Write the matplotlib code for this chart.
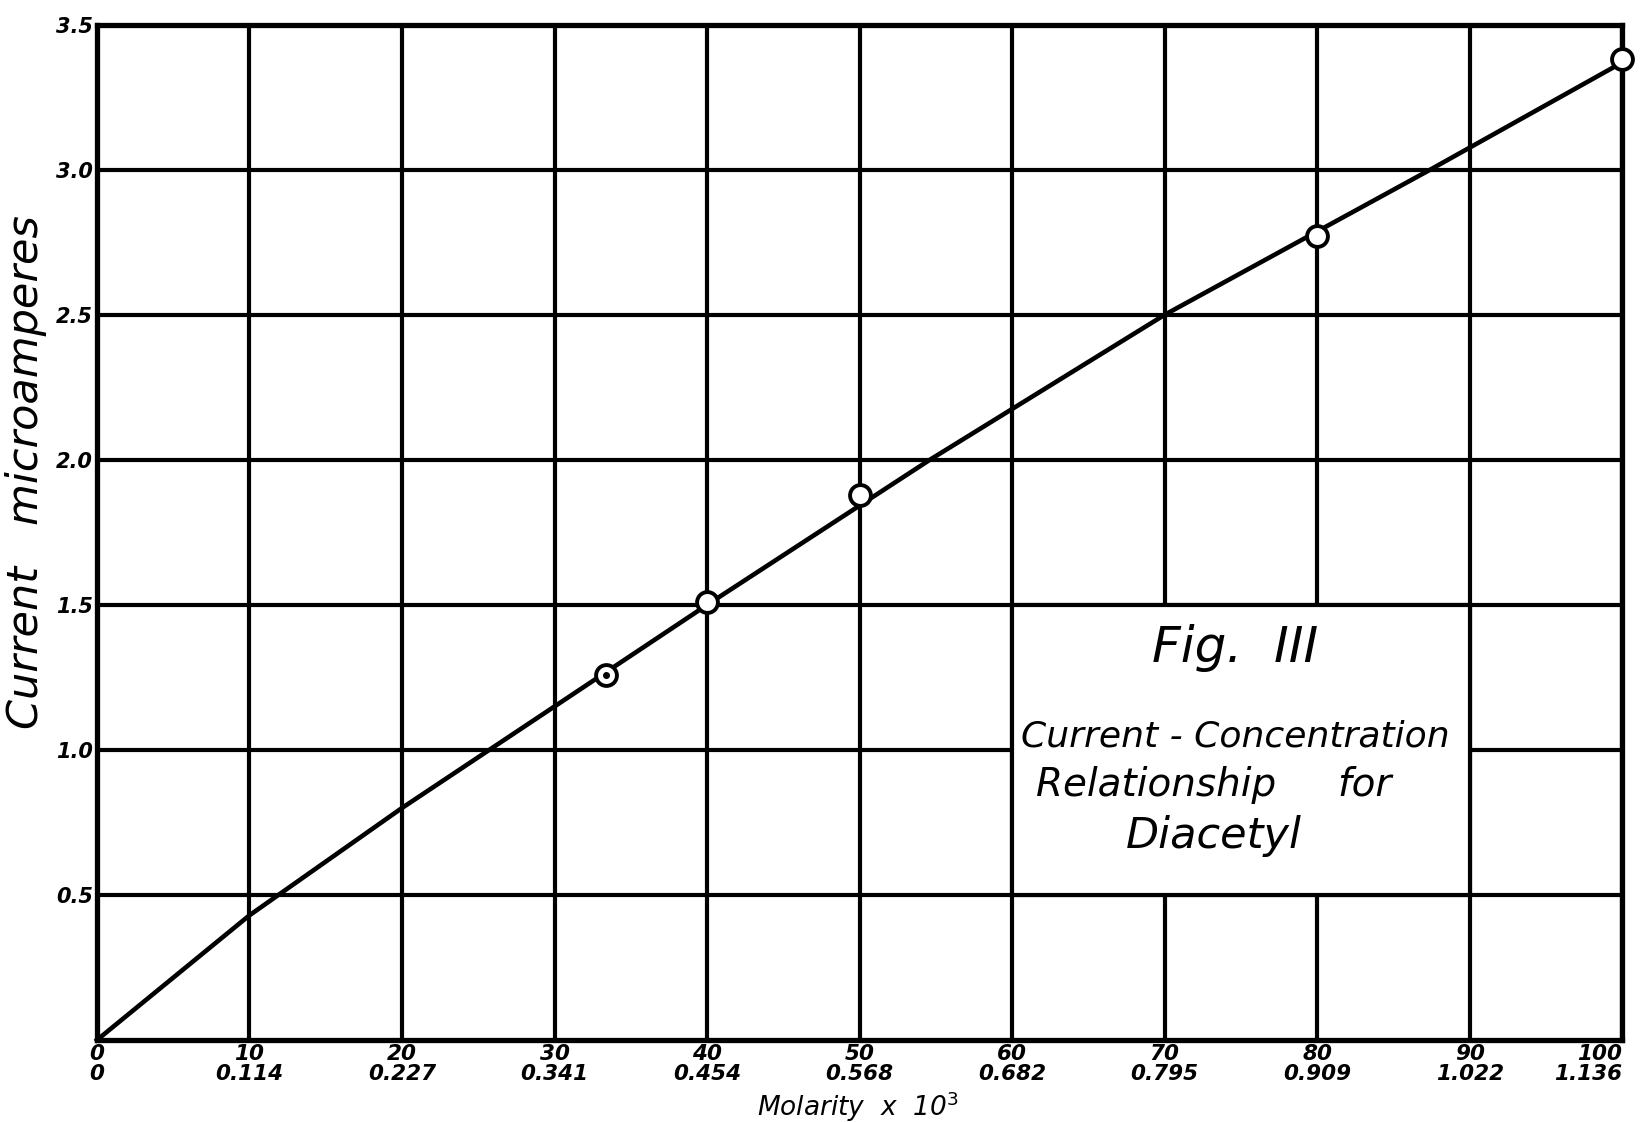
import matplotlib.pyplot as plt
import matplotlib.patches as patches

# readings
molarity_x1e3 = [0, 10, 20, 30, 40, 50, 60, 70, 80, 90, 100]
molarity_mm = ["0", "0.114", "0.227", "0.341", "0.454", "0.568", "0.682", "0.795", "0.909", "1.022", "1.136"]
y_ticks = [0.5, 1.0, 1.5, 2.0, 2.5, 3.0, 3.5]

# measured points (open circles)
pt_x = [33.4, 40, 50, 80, 100]
pt_y = [1.26, 1.51, 1.88, 2.77, 3.38]

# the drawn curve, read where it crosses the grid
curve_x = [0, 10, 20, 40, 54.6, 70, 87.4, 100]
curve_y = [0, 0.43, 0.80, 1.5, 2.0, 2.5, 3.0, 3.37]

fnt = "DejaVu Sans"

fig = plt.figure(figsize=(16.42, 11.22), dpi=100)
ax = fig.add_axes([0.059, 0.073, 0.929, 0.905])

ax.set_xlim(0, 100)
ax.set_ylim(0, 3.5)
ax.set_xticks(molarity_x1e3)
ax.set_xticklabels([f"{a}\n{b}" for a, b in zip(molarity_x1e3, molarity_mm)],
                   fontsize=15.5, fontstyle="italic", fontweight="bold", family=fnt,
                   linespacing=1.0)
last = ax.get_xticklabels()[-1]
last.set_ha("right")
last.set_multialignment("right")
ax.set_yticks(y_ticks)
ax.set_yticklabels([f"{v:.1f}" for v in y_ticks], fontsize=15, fontstyle="italic",
                   fontweight="bold", family=fnt)
ax.tick_params(length=0, pad=3)
ax.grid(True, color="black", linewidth=3)
for s in ax.spines.values():
    s.set_linewidth(3.8)

# white label box covering the grid
box = patches.Rectangle((60, 0.5), 30, 1.0, facecolor="white", edgecolor="black",
                        linewidth=3, zorder=2)
ax.add_patch(box)

ax.plot(curve_x, curve_y, color="black", linewidth=3.3, zorder=3, clip_on=False)
ax.plot(pt_x, pt_y, linestyle="none", marker="o", markersize=15, markerfacecolor="white",
        markeredgecolor="black", markeredgewidth=2.8, zorder=4, clip_on=False)
ax.plot(pt_x[0], pt_y[0], marker="o", markersize=4, color="black", zorder=5)

ax.text(74.6, 1.35, "Fig.  III", fontsize=36, fontstyle="italic", family=fnt,
        ha="center", va="center", zorder=5)
ax.text(74.6, 1.048, "Current - Concentration", fontsize=26, fontstyle="italic",
        family=fnt, ha="center", va="center", zorder=5)
ax.text(73.2, 0.879, "Relationship     for", fontsize=28, fontstyle="italic",
        family=fnt, ha="center", va="center", zorder=5)
ax.text(73.2, 0.703, "Diacetyl", fontsize=31, fontstyle="italic",
        family=fnt, ha="center", va="center", zorder=5)

ax.set_xlabel(r"Molarity  x  10$^3$", fontsize=19, fontstyle="italic", family=fnt)
ax.xaxis.set_label_coords(0.499, -0.049)
ax.set_ylabel("Current   microamperes", fontsize=31, fontstyle="italic", family=fnt)
ax.yaxis.set_label_coords(-0.033, 0.559)

fig.savefig("out.png", dpi=100)
